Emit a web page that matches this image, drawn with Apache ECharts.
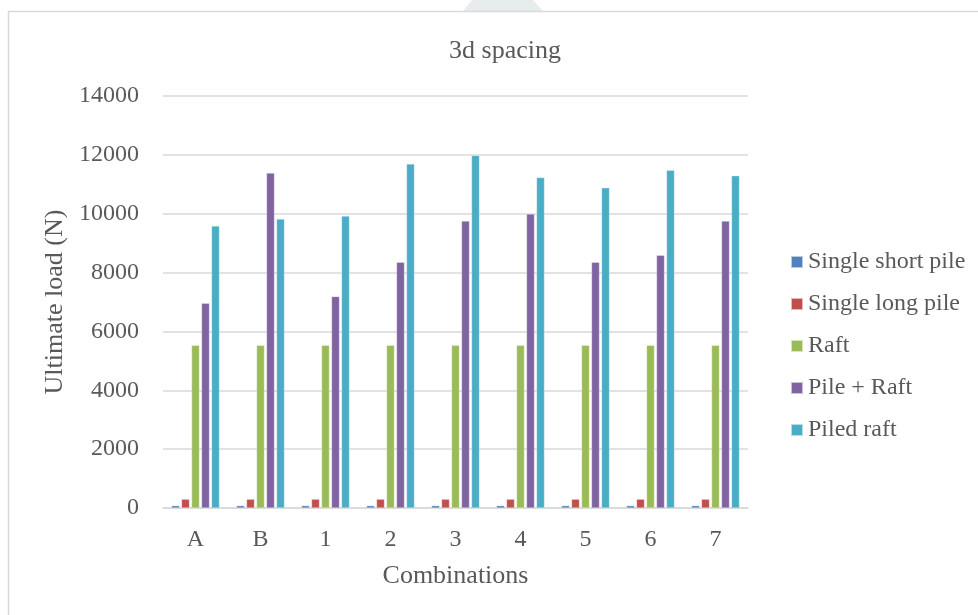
<!DOCTYPE html>
<html>
<head>
<meta charset="utf-8">
<script src="https://cdn.jsdelivr.net/npm/echarts@6/dist/echarts.min.js"></script>
<style>
  html, body { margin: 0; padding: 0; background: #fff; }
  #chart { width: 978px; height: 615px; }
</style>
</head>
<body>
<div id="chart"></div>
<script>
// Ultimate load per pile/raft combination, 3d pile spacing
var categories = ['A', 'B', '1', '2', '3', '4', '5', '6', '7'];
var singleShortPile = [80, 80, 80, 80, 80, 80, 80, 80, 80];
var singleLongPile  = [300, 300, 300, 300, 300, 300, 300, 300, 300];
var raft            = [5530, 5530, 5530, 5530, 5530, 5530, 5530, 5530, 5530];
var pilePlusRaft    = [6960, 11380, 7190, 8350, 9750, 9990, 8350, 8590, 9750];
var piledRaft       = [9580, 9820, 9920, 11690, 11980, 11230, 10880, 11480, 11290];
var yTicks = [0, 2000, 4000, 6000, 8000, 10000, 12000, 14000];

var seriesDefs = [
  { name: 'Single short pile', data: singleShortPile, color: '#4F81BD' },
  { name: 'Single long pile',  data: singleLongPile,  color: '#C0504D' },
  { name: 'Raft',              data: raft,            color: '#9BBB59' },
  { name: 'Pile + Raft',       data: pilePlusRaft,    color: '#8064A2' },
  { name: 'Piled raft',        data: piledRaft,       color: '#4BACC6' }
];

var font = '"Liberation Serif", "DejaVu Serif", serif';
var textColor = '#595959';

var chart = echarts.init(document.getElementById('chart'), null, { renderer: 'canvas' });
chart.setOption({
  animation: false,
  backgroundColor: '#ffffff',
  textStyle: { fontFamily: font },
  graphic: [
    {
      // faint stamp peeking above the frame
      type: 'polygon',
      shape: { points: [[463, 11], [543, 11], [533, 0], [472, 0]] },
      style: { fill: '#dfe5e5', opacity: 0.75 },
      silent: true
    },
    {
      type: 'polyline',
      shape: { points: [[8.5, 615], [8.5, 11.5], [978, 11.5]] },
      style: { fill: 'none', stroke: '#d9d9d9', lineWidth: 1.5 },
      silent: true
    }
  ],
  title: {
    text: '3d spacing',
    left: 500, top: 33, textAlign: 'center',
    textStyle: { fontFamily: font, fontSize: 26, fontWeight: 'normal', color: textColor }
  },
  legend: {
    orient: 'vertical',
    left: 785, top: 245,
    itemWidth: 12, itemHeight: 12, itemGap: 18,
    icon: 'rect',
    textStyle: { fontFamily: font, fontSize: 24, color: textColor },
    data: seriesDefs.map(function (s) { return s.name; })
  },
  grid: { left: 163, right: 230, top: 96, bottom: 107, containLabel: false },
  xAxis: {
    type: 'category',
    data: categories,
    name: 'Combinations',
    nameLocation: 'middle',
    nameGap: 55,
    nameTextStyle: { fontFamily: font, fontSize: 26, color: textColor },
    axisLine: { lineStyle: { color: '#d9d9d9', width: 1.5 } },
    axisTick: { show: false },
    axisLabel: { fontFamily: font, fontSize: 24, color: textColor, margin: 20 }
  },
  yAxis: {
    type: 'value',
    min: yTicks[0], max: yTicks[yTicks.length - 1], interval: yTicks[1] - yTicks[0],
    name: 'Ultimate load (N)',
    nameLocation: 'middle',
    nameGap: 84,
    nameTextStyle: { fontFamily: font, fontSize: 26, color: textColor },
    axisLine: { show: false },
    axisTick: { show: false },
    axisLabel: {
      fontFamily: font, fontSize: 24, color: textColor, margin: 24,
      formatter: function (v) { return String(v); }
    },
    splitLine: { lineStyle: { color: '#d9d9d9', width: 1.5 } }
  },
  series: seriesDefs.map(function (s) {
    return {
      name: s.name,
      type: 'bar',
      data: s.data,
      barWidth: 8,
      barGap: '25%',
      itemStyle: { color: s.color, borderColor: 'rgba(255,255,255,0.6)', borderWidth: 0.5 }
    };
  })
});
</script>
</body>
</html>
